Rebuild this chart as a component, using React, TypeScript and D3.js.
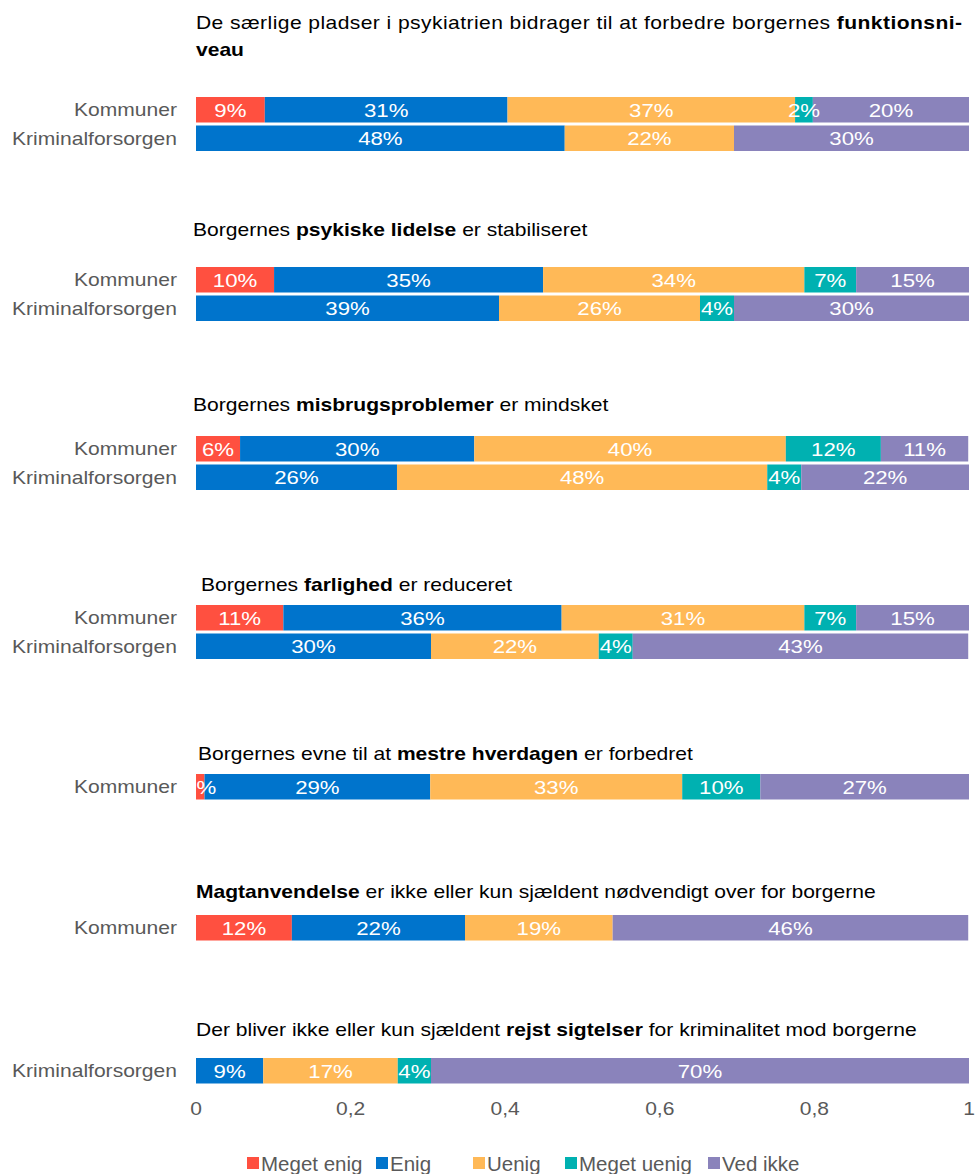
import * as d3 from "d3";

// series
const seriesNames = ["Meget enig", "Enig", "Uenig", "Meget uenig", "Ved ikke"];
const seriesColors = ["#FF5040", "#0074CC", "#FFB957", "#00B1B1", "#8A83BB"];

// rows (one bar each)
const rowGroup = [0, 0, 1, 1, 2, 2, 3, 3, 4, 5, 6];
const rowLabels = [
  "Kommuner",
  "Kriminalforsorgen",
  "Kommuner",
  "Kriminalforsorgen",
  "Kommuner",
  "Kriminalforsorgen",
  "Kommuner",
  "Kriminalforsorgen",
  "Kommuner",
  "Kommuner",
  "Kriminalforsorgen",
];
const megetEnig = [0.089, 0, 0.101, 0, 0.057, 0, 0.113, 0, 0.011, 0.124, 0];
const enig = [0.314, 0.477, 0.348, 0.392, 0.303, 0.26, 0.36, 0.304, 0.292, 0.224, 0.087];
const uenig = [0.372, 0.219, 0.338, 0.26, 0.403, 0.479, 0.314, 0.217, 0.326, 0.191, 0.174];
const megetUenig = [0.023, 0, 0.067, 0.044, 0.123, 0.044, 0.067, 0.044, 0.101, 0, 0.043];
const vedIkke = [0.202, 0.304, 0.146, 0.304, 0.113, 0.217, 0.146, 0.434, 0.27, 0.46, 0.696];

// group titles, split in normal / bold pieces
const titles: [string, boolean][][] = [
  [["De særlige pladser i psykiatrien bidrager til at forbedre borgernes ", false], ["funktionsni-", true]],
  [["Borgernes ", false], ["psykiske lidelse", true], [" er stabiliseret", false]],
  [["Borgernes ", false], ["misbrugsproblemer", true], [" er mindsket", false]],
  [["Borgernes ", false], ["farlighed", true], [" er reduceret", false]],
  [["Borgernes evne til at ", false], ["mestre hverdagen", true], [" er forbedret", false]],
  [["Magtanvendelse", true], [" er ikke eller kun sjældent nødvendigt over for borgerne", false]],
  [["Der bliver ikke eller kun sjældent ", false], ["rejst sigtelser", true], [" for kriminalitet mod borgerne", false]],
];
const titleContinuation = "veau";

const xTicks = [0, 0.2, 0.4, 0.6, 0.8, 1];

// layout
const W = 975;
const H = 1174;
const groupTop = [97, 267, 436, 605, 774, 915, 1058];
const titleX = [196, 193, 193, 201, 198, 196, 196];
const titleBase = [29, 236, 411, 591, 760, 898, 1036];
const barH = 25.5;
const rowStep = 28.5;
const SX = 1.17; // horizontal stretch of the source's text
const FONT = "'Liberation Sans', Arial, sans-serif";
const legendX = [247, 376, 473, 565, 708];

export default function App() {
  const x = d3.scaleLinear().domain([0, 1]).range([196, 969]);
  const fmt = (v: number) => d3.format(".1~f")(v).replace(".", ",");
  const series = [megetEnig, enig, uenig, megetUenig, vedIkke];

  const rows = rowLabels.map((label, i) => {
    const g = rowGroup[i];
    const first = rowGroup.indexOf(g);
    const top = groupTop[g] + (i - first) * rowStep;
    const vals = series.map((s) => s[i]);
    const stack = d3.cumsum(vals);
    return { label, top, segs: vals.map((v, k) => ({ v, k, x0: stack[k] - v, x1: stack[k] })) };
  });

  const st = (tx: number, ty: number) => `translate(${tx},${ty}) scale(${SX},1)`;

  return (
    <svg
      width={W}
      height={H}
      style={{ position: "absolute", left: 0, top: 0, background: "#fff" }}
      fontFamily={FONT}
    >
      {/* titles */}
      {titles.map((parts, g) => (
        <text key={"t" + g} transform={st(titleX[g], titleBase[g])} fontSize={18} fill="#000"
          {...(g === 0 ? { textLength: (962 - 196) / SX, lengthAdjust: "spacing" } : {})}>
          {parts.map(([t, b], j) => (
            <tspan key={j} fontWeight={b ? 700 : 400}>{t}</tspan>
          ))}
        </text>
      ))}
      <text transform={st(196, 56)} fontSize={18} fontWeight={700} fill="#000">
        {titleContinuation}
      </text>

      {/* bars */}
      {rows.map((r, i) => (
        <g key={"r" + i}>
          <text transform={st(177, r.top + barH / 2 + 6.5)} textAnchor="end" fontSize={18} fill="#595959">
            {r.label}
          </text>
          {r.segs.filter((s) => s.v > 0).map((s) => (
            <rect key={"b" + s.k} x={x(s.x0)} y={r.top} width={x(s.x1) - x(s.x0)} height={barH}
              fill={seriesColors[s.k]} />
          ))}
          {r.segs.filter((s) => s.v > 0).map((s) => (
            <text key={"l" + s.k} transform={st((x(s.x0) + x(s.x1)) / 2, r.top + barH / 2 + 7)}
              textAnchor="middle" fontSize={19} fill="#fff">
              {Math.round(s.v * 100) + "%"}
            </text>
          ))}
        </g>
      ))}

      {/* x axis */}
      {xTicks.map((t) => (
        <text key={"x" + t} transform={st(x(t), 1114.5)} textAnchor="middle" fontSize={18} fill="#595959">
          {fmt(t)}
        </text>
      ))}

      {/* legend */}
      {seriesNames.map((n, k) => (
        <g key={"lg" + k}>
          <rect x={legendX[k]} y={1157} width={12} height={12} fill={seriesColors[k]} />
          <text x={legendX[k] + 14} y={1170.5} fontSize={20.5} fill="#595959">{n}</text>
        </g>
      ))}
    </svg>
  );
}
